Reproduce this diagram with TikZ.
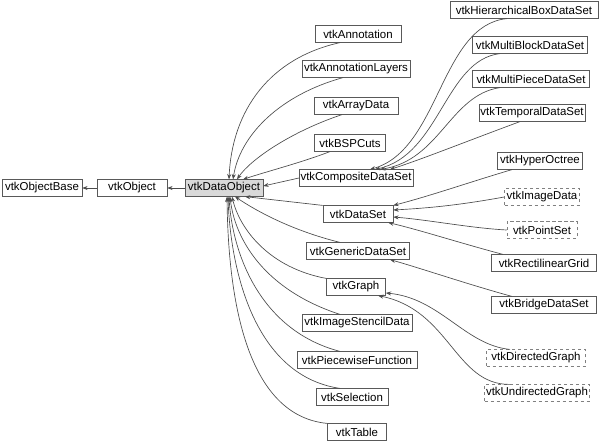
\documentclass[tikz,border=0pt]{standalone}
\usepackage{fontspec}
\setmainfont{Liberation Sans}
\usetikzlibrary{arrows.meta}
\tikzset{
	cls/.style={draw=black!65, fill=white, rectangle, inner xsep=1pt, inner ysep=0pt, minimum height=12.5pt, font=\fontsize{8.6}{10}\selectfont},
	clsmain/.style={cls, fill=black!15},
	clsext/.style={cls, draw=black!50, dash pattern=on 2.5pt off 2pt},
	inh/.style={draw=black!70, line width=0.5pt, -{Stealth[length=4pt,width=3pt]}}
}
\begin{document}
\begin{tikzpicture}[x=0.75pt,y=-0.75pt]
				\useasboundingbox (0,0) rectangle (600,444);
				\node[cls, minimum width=60pt] (base)at(42,188) {vtkObjectBase};
				\node[cls, minimum width=52.5pt] (obj)at(132,188) {vtkObject};
				\node[clsmain, minimum width=58.5pt] (dobj)at(224,188) {vtkDataObject};
				\node[cls, minimum width=64.5pt] (annot)at(358,34) {vtkAnnotation};
				\node[cls, minimum width=81pt] (annotlay)at(356,69) {vtkAnnotationLayers};
				\node[cls, minimum width=63pt] (arr)at(356,106) {vtkArrayData};
				\node[cls, minimum width=53.25pt] (bsp)at(350,143) {vtkBSPCuts};
				\node[cls, minimum width=81.75pt] (comp)at(356,178) {vtkCompositeDataSet};
				\node[cls, minimum width=52.5pt] (ds)at(358,214) {vtkDataSet};
				\node[cls, minimum width=77.25pt] (gen)at(358,251) {vtkGenericDataSet};
				\node[cls, minimum width=44.25pt] (graph)at(356,287) {vtkGraph};
				\node[cls, minimum width=82.5pt] (stencil)at(357,323) {vtkImageStencilData};
				\node[cls, minimum width=90pt] (pwf)at(357,360) {vtkPiecewiseFunction};
				\node[cls, minimum width=54pt] (sel)at(352,397) {vtkSelection};
				\node[cls, minimum width=44.25pt] (table)at(357,432) {vtkTable};
				\node[cls, minimum width=111pt] (hbox)at(524,10) {vtkHierarchicalBoxDataSet};
				\node[cls, minimum width=86.25pt] (mblock)at(530,45) {vtkMultiBlockDataSet};
				\node[cls, minimum width=87.75pt] (mpiece)at(531,79) {vtkMultiPieceDataSet};
				\node[cls, minimum width=78.75pt] (temp)at(532,113) {vtkTemporalDataSet};
				\node[cls, minimum width=63.75pt] (octree)at(540,161) {vtkHyperOctree};
				\node[clsext, minimum width=56.25pt] (img)at(542,197) {vtkImageData};
				\node[clsext, minimum width=52.5pt] (pts)at(542,230) {vtkPointSet};
				\node[cls, minimum width=78.75pt] (rgrid)at(544,263) {vtkRectilinearGrid};
				\node[cls, minimum width=78.75pt] (bridge)at(544,305) {vtkBridgeDataSet};
				\node[clsext, minimum width=74.25pt] (dgraph)at(536,358) {vtkDirectedGraph};
				\node[clsext, minimum width=78.75pt] (ugraph)at(537,393) {vtkUndirectedGraph};
				\draw[inh] (obj.west) -- (base.east);
				\draw[inh] (dobj.west) -- (obj.east);
				\draw[inh] ([xshift=-13.5pt]annot.south) .. controls (270,58) and (232,110) .. ([xshift=3.75pt]dobj.north);
				\draw[inh] ([xshift=-9.75pt]annotlay.south) .. controls (280,95) and (240,135) .. ([xshift=6.75pt]dobj.north);
				\draw[inh] ([xshift=-10.5pt]arr.south) .. controls (290,132) and (250,160) .. ([xshift=9.75pt]dobj.north);
				\draw[inh] ([xshift=-15pt]bsp.south) .. controls (300,163) and (265,172) .. ([xshift=14.25pt]dobj.north);
				\draw[inh] (comp.west) -- ([yshift=1.5pt]dobj.east);
				\draw[inh] (ds.north west) -- ([xshift=15.75pt]dobj.south);
				\draw[inh] ([xshift=-13.5pt]gen.north) .. controls (290,230) and (255,210) .. ([xshift=8.25pt]dobj.south);
				\draw[inh] (graph.north west) .. controls (270,268) and (240,230) .. ([xshift=6pt]dobj.south);
				\draw[inh] ([xshift=-12.75pt]stencil.north) .. controls (265,290) and (235,240) .. ([xshift=4.5pt]dobj.south);
				\draw[inh] ([xshift=-12.75pt]pwf.north) .. controls (258,330) and (232,250) .. ([xshift=3.75pt]dobj.south);
				\draw[inh] ([xshift=-9pt]sel.north) .. controls (250,375) and (230,260) .. ([xshift=3pt]dobj.south);
				\draw[inh] (table.north west) .. controls (240,415) and (228,280) .. ([xshift=2.25pt]dobj.south);
				\draw[inh] ([xshift=-12.75pt]hbox.south) .. controls (440,25) and (440,150) .. ([xshift=10.5pt]comp.north);
				\draw[inh] ([xshift=-22.5pt]mblock.south) .. controls (445,60) and (440,155) .. ([xshift=14.25pt]comp.north);
				\draw[inh] ([xshift=-23.25pt]mpiece.south) .. controls (450,95) and (440,160) .. ([xshift=18pt]comp.north);
				\draw[inh] ([xshift=-9pt]temp.south) .. controls (470,140) and (420,160) .. ([xshift=25.5pt]comp.north);
				\draw[inh] ([xshift=-21pt]octree.south) .. controls (470,182) and (430,196) .. (ds.north east);
				\draw[inh] (img.west) .. controls (460,205) and (430,208) .. ([yshift=3pt]ds.east);
				\draw[inh] (pts.west) .. controls (470,228) and (430,220) .. ([yshift=-2.25pt]ds.east);
				\draw[inh] ([xshift=-30.75pt]rgrid.north) .. controls (460,243) and (420,230) .. ([xshift=-3.75pt]ds.south east);
				\draw[inh] ([xshift=-24pt]bridge.north) .. controls (470,285) and (420,268) .. ([xshift=24pt]gen.south);
				\draw[inh] ([xshift=-19.5pt]dgraph.north) .. controls (465,345) and (440,298) .. ([yshift=-4.5pt]graph.east);
				\draw[inh] ([xshift=-20.25pt]ugraph.north) .. controls (455,385) and (450,310) .. ([xshift=16.5pt]graph.south);
			\end{tikzpicture}
\end{document}
